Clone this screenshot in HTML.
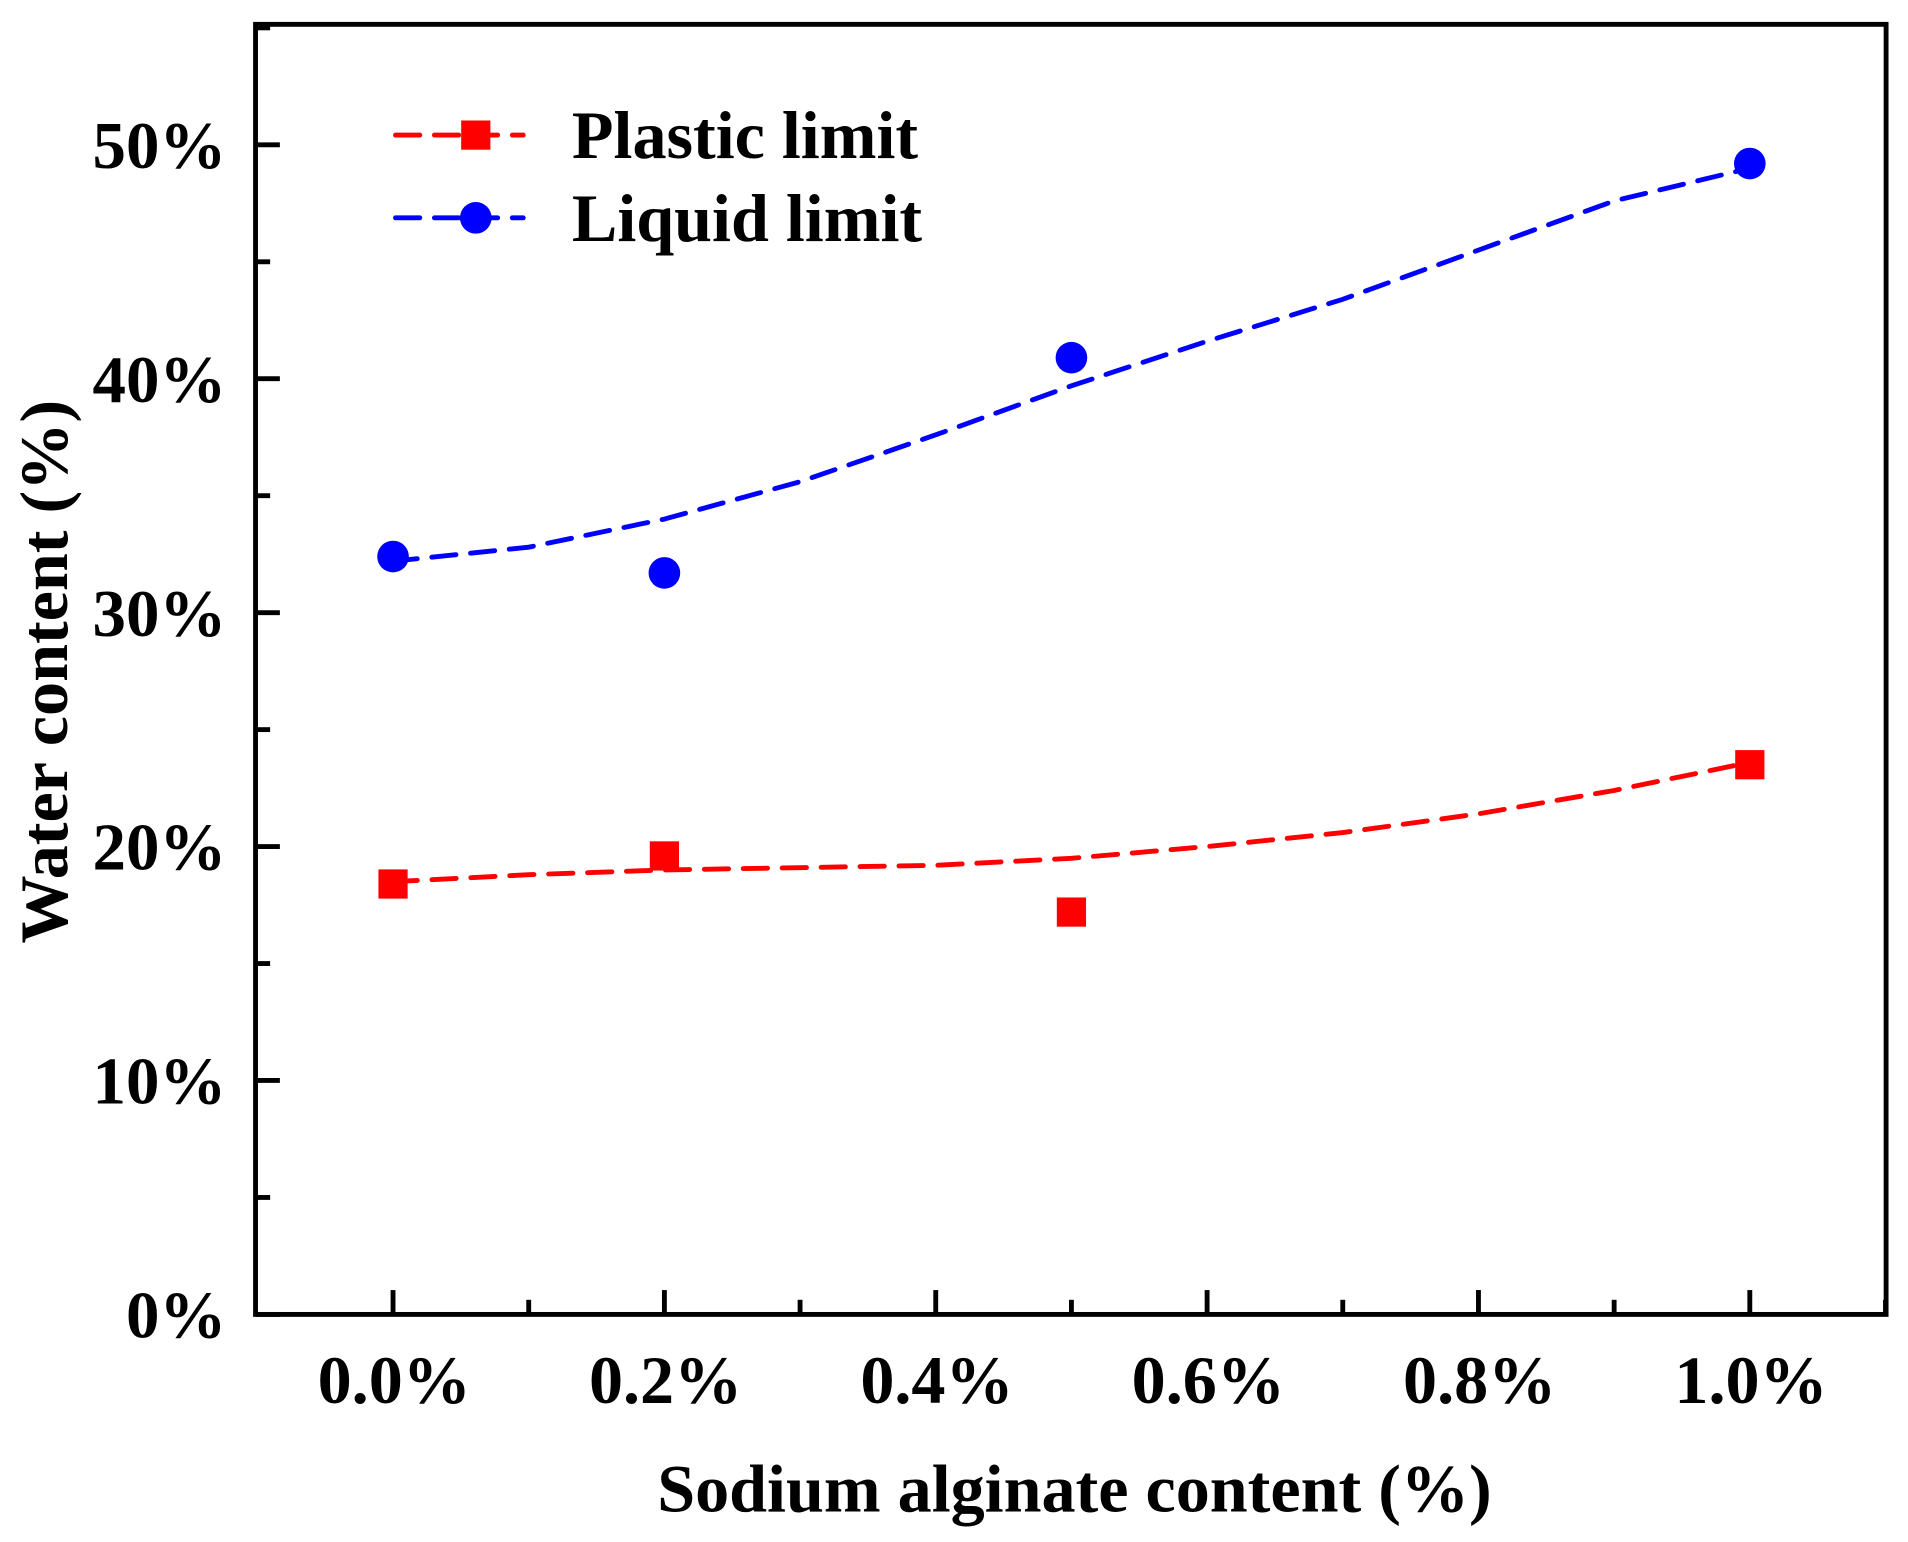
<!DOCTYPE html>
<html><head><meta charset="utf-8"><style>
html,body{margin:0;padding:0;background:#fff;}
svg{display:block;}
text{font-family:"Liberation Serif",serif;font-weight:bold;fill:#000;}
</style></head><body>
<svg id="chart" width="1908" height="1542" viewBox="0 0 1568 1267" preserveAspectRatio="none" xmlns="http://www.w3.org/2000/svg">
<rect x="210" y="20" width="1340" height="1060" fill="none" stroke="#000" stroke-width="4"/>
<g id="axes"></g>
<g id="series"></g>
<text x="883" y="1242" font-size="56" text-anchor="middle">Sodium alginate content (%)</text>
<text transform="translate(55,552) rotate(-90)" font-size="56" text-anchor="middle">Water content (%)</text>
<g>
<g>
<line x1="325" y1="111" x2="430" y2="111" stroke="#f00" stroke-width="4" stroke-dasharray="20,12" stroke-linecap="round"/>
<rect x="379" y="99" width="24" height="24" fill="#f00"/>
<text x="470" y="130" font-size="56">Plastic limit</text>
</g>
<g>
<line x1="325" y1="179" x2="430" y2="179" stroke="#00f" stroke-width="4" stroke-dasharray="20,12" stroke-linecap="round"/>
<circle cx="391" cy="179" r="13" fill="#00f"/>
<text x="470" y="198" font-size="56">Liquid limit</text>
</g>
</g>
</svg>
<script>
const categories = [0.0, 0.2, 0.5, 1.0];
const plasticLimit = [18.4, 19.6, 17.2, 23.5];
const liquidLimit = [32.4, 31.7, 40.9, 49.2];
const fitX = [0, 0.1, 0.2, 0.3, 0.4, 0.5, 0.6, 0.7, 0.8, 0.9, 1.0];
const plasticFit = [18.5, 18.8, 19.0, 19.1, 19.2, 19.5, 20.0, 20.6, 21.4, 22.4, 23.6];
const liquidFit = [32.2, 32.8, 34.0, 35.6, 37.6, 39.7, 41.6, 43.4, 45.5, 47.6, 49.0];
const xTicks = [0, 0.2, 0.4, 0.6, 0.8, 1.0];
const xTickLabels = ["0.0%", "0.2%", "0.4%", "0.6%", "0.8%", "1.0%"];
const yTicks = [0, 10, 20, 30, 40, 50];
const yTickLabels = ["0%", "10%", "20%", "30%", "40%", "50%"];

const NS = "http://www.w3.org/2000/svg";
const X = v => 323 + (v / 1.0) * 1115;
const Y = v => 1080 - (v / 50) * 961;
function mk(tag, attrs, parent){const e=document.createElementNS(NS,tag);for(const k in attrs)e.setAttribute(k,attrs[k]);parent.appendChild(e);return e;}
const axes = document.getElementById('axes');
const series = document.getElementById('series');

xTicks.forEach((t,i)=>{
  const l = mk('line',{x1:X(t),x2:X(t),y1:1080,y2:1060,stroke:'#000','stroke-width':4},axes);
  
  
  const m = mk('line',{x1:X(t+0.1),x2:X(t+0.1),y1:1080,y2:1068,stroke:'#000','stroke-width':4},axes);
  
  
  const tx = mk('text',{x:X(t)+1,y:1153,'font-size':56,'text-anchor':'middle'},axes);
  tx.textContent = xTickLabels[i];
  
  
});
yTicks.forEach((t,i)=>{
  const l = mk('line',{x1:210,x2:230,y1:Y(t),y2:Y(t),stroke:'#000','stroke-width':4},axes);
  
  
  const m = mk('line',{x1:210,x2:222,y1:Y(t+5),y2:Y(t+5),stroke:'#000','stroke-width':4},axes);
  
  
  const tx = mk('text',{x:186,y:Y(t)+19,'font-size':55,'text-anchor':'end'},axes);
  tx.textContent = yTickLabels[i];
  
  
});

function drawSeries(vals,fit,color,kind,name){
  let d='';
  fitX.forEach((x,i)=>{d+=(i?'L':'M')+X(x).toFixed(1)+','+Y(fit[i]).toFixed(1);});
  const p = mk('path',{d:d,fill:'none',stroke:color,'stroke-width':4,'stroke-dasharray':'20,12','stroke-linecap':'round','stroke-linejoin':'round'},series);
  
  
  categories.forEach((c,i)=>{
    let e;
    if(kind==='square') e = mk('rect',{x:X(c)-12,y:Y(vals[i])-12,width:24,height:24,fill:color},series);
    else e = mk('circle',{cx:X(c),cy:Y(vals[i]),r:13,fill:color},series);
    
    
  });
}
drawSeries(plasticLimit,plasticFit,'#f00','square','plastic-limit');
drawSeries(liquidLimit,liquidFit,'#00f','circle','liquid-limit');
</script>
</body></html>
